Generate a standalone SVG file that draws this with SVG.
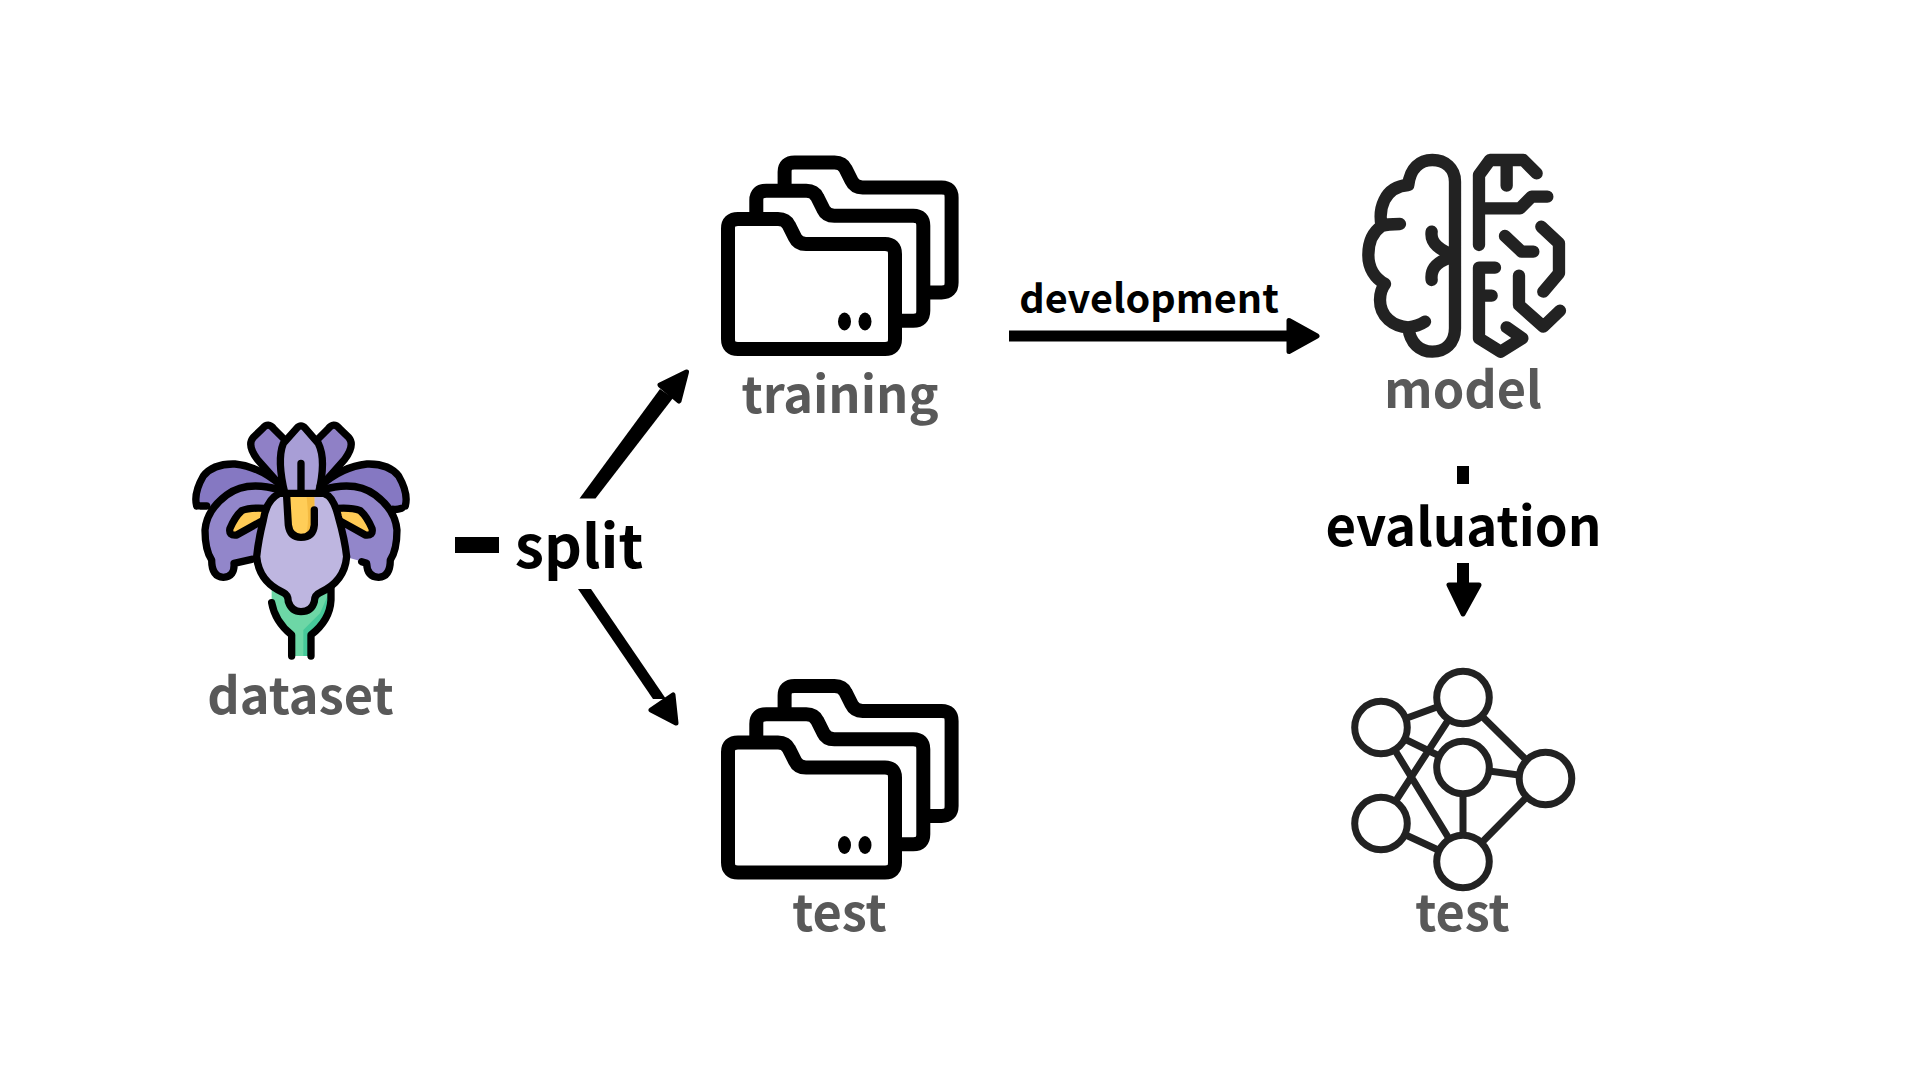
<svg xmlns="http://www.w3.org/2000/svg" width="1920" height="1080" viewBox="0 0 1920 1080">
<style>
text{font-family:"Noto Sans CJK SC","Noto Sans",sans-serif;font-weight:700;text-anchor:middle}
.lab{fill:#595959;font-size:50.500px}
.act{fill:#000}
.ol{fill:none;stroke:#000;stroke-width:22;stroke-linecap:round;stroke-linejoin:round}
.fo{fill:#fff;stroke:#000;stroke-width:14;stroke-linejoin:round}
.br{fill:none;stroke:#222;stroke-width:37;stroke-linecap:round;stroke-linejoin:round}
.nl{stroke:#222;stroke-width:7}
.nc{fill:#fff;stroke:#222;stroke-width:7}
.hd{stroke:#000;stroke-width:5;stroke-linejoin:round}
</style>
<defs>
<path id="ff" d="M728 752Q728 742.500 738 742.500H778Q786 742.500 789 749L795 761Q798 767.500 806 767.500H885Q895 767.500 895 777.500V862.500Q895 872.500 885 872.500H738Q728 872.500 728 862.500Z"/>
<g id="folders">
<use href="#ff" class="fo" x="56.600" y="-56.600"/>
<use href="#ff" class="fo" x="28.300" y="-28.300"/>
<use href="#ff" class="fo"/>
<ellipse cx="844.500" cy="845" rx="6.500" ry="9"/>
<ellipse cx="865" cy="845" rx="6.500" ry="9"/>
</g>
<path id="pt" d="M330 255L262 178Q230 135 250 112L278 85Q295 65 312 87L345 120L340 260Z" fill="#8f80c6"/>
<path id="pu" d="M80 318Q70 280 100 228Q130 190 195 192Q270 200 335 258L330 270Q230 240 170 285Q130 320 110 325Z" fill="#8578c2"/>
<path id="pl" d="M325 270Q230 240 170 285Q110 330 105 390Q105 450 125 480Q125 530 160 532Q195 530 192 490L260 470L330 290Z" fill="#9286ca"/>
<path id="py" d="M180 385Q195 350 215 332Q240 322 285 325L272 365L200 405Q175 408 180 385Z" fill="#ffcb55"/>
</defs>
<rect width="1920" height="1080" fill="#fff"/>

<g id="connectors">
<rect x="455" y="537" width="44" height="16"/>
<path d="M579.500 498.500H595.500L673 398L660 389Z"/>
<path d="M686.500 372L660 385L679 401Z" class="hd"/>
<path d="M578 589H591L666 699L653 699Z"/>
<path d="M676 723L651 710L673 695Z" class="hd"/>
<rect x="1009" y="330.500" width="282" height="11"/>
<path d="M1317 336L1289 320.500V351.500Z" class="hd"/>
<rect x="1457" y="466" width="12" height="18"/>
<rect x="1457" y="563" width="12" height="24"/>
<path d="M1463 614L1449 585H1479Z" class="hd"/>
<text class="act" x="579" y="568" font-size="59">split</text>
<text class="act" x="1149" y="313" font-size="39.600">development</text>
<text class="act" x="1463.500" y="546" font-size="52.700">evaluation</text>
</g>

<g id="dataset">
<g transform="translate(170 400) scale(.3333)">
<path d="M305 570L483 555V600Q480 660 423 705V768H365V705Q315 665 305 608Z" fill="#6dd7a6"/>
<path d="M400 690L450 640L483 565V600Q480 660 423 705V768H400Z" fill="#46c99a"/>
<path d="M305 608Q315 665 365 705V768M483 565V600Q480 660 423 705V768" class="ol"/>
<use href="#pt"/><use href="#pt" transform="matrix(-1 0 0 1 786 0)"/>
<path d="M330 255L262 178Q230 135 250 112L278 85Q295 65 312 87L345 120M456 255L524 178Q556 135 536 112L508 85Q491 65 474 87L441 120" class="ol"/>
<path d="M345 282Q320 180 340 130L380 85Q393 70 406 85L445 130Q470 180 445 282Z" fill="#a89ed6"/>
<path d="M345 282Q320 180 340 130L380 85Q393 70 406 85L445 130Q470 180 445 282M393 190V270" class="ol"/>
<use href="#pu"/><use href="#pu" transform="matrix(-1 0 0 1 786 0)"/>
<use href="#pl"/><use href="#pl" transform="matrix(-1 0 0 1 786 0)"/>
<path d="M80 318Q70 280 100 228Q130 190 195 192Q270 200 335 258M706 318Q716 280 686 228Q656 190 591 192Q516 200 451 258M695 325Q680 330 670 328M91 318H110" class="ol"/>
<path d="M330 270Q230 240 170 285Q110 330 105 390Q105 450 125 480Q125 530 160 532Q195 530 192 490L245 478M456 270Q556 240 616 285Q676 330 681 390Q681 450 661 480Q661 530 626 532Q591 530 590 490L575 485" class="ol"/>
<use href="#py"/><use href="#py" transform="matrix(-1 0 0 1 786 0)"/>
<path d="M285 325Q240 322 215 332Q195 350 180 385Q175 408 200 405L272 365M501 325Q546 322 571 332Q591 350 606 385Q611 408 586 405L514 365" class="ol"/>
<path d="M325 282Q290 300 280 360Q265 420 260 470C265 530 300 560 340 578Q355 585 355 605Q365 635 393 635Q425 635 433 605Q433 585 450 578C490 560 525 530 530 470Q525 420 505 350Q490 290 465 282Z" fill="#beb6e0"/>
<path d="M350 290L355 375Q360 412 393 412Q430 412 433 375V292Z" fill="#ffcd58"/>
<path d="M410 292H433V375Q430 405 405 411Q420 380 410 292Z" fill="#f5bb42"/>
<path d="M330 280H460M465 282Q490 290 505 350Q525 420 530 470C525 530 490 560 450 578Q433 585 433 605Q425 635 393 635Q365 635 355 605Q355 585 340 578C300 560 265 530 260 470Q265 420 280 360Q290 300 325 282M350 290L355 375Q360 412 393 412Q430 412 433 375V330" class="ol"/>
</g>
<text class="lab" x="300.500" y="714">dataset</text>
</g>

<g id="training">
<use href="#folders" y="-523.500"/>
<text class="lab" x="840" y="413">training</text>
</g>

<g id="test-folder">
<use href="#folders"/>
<text class="lab" x="839.500" y="931">test</text>
</g>

<g id="model">
<g transform="translate(1340 130) scale(.3333)">
<path class="br" d="M205 165C210 115 240 90 277 90C315 90 345 115 345 155V595C345 640 315 665 277 665C240 665 210 640 205 592C160 590 120 560 120 510C120 490 125 475 135 462C105 445 85 415 85 375C85 335 100 305 125 288C115 240 130 170 205 165ZM125 288C140 282 160 282 180 282M205 592C225 590 240 585 255 575M275 305C270 340 300 360 345 378M275 450C270 410 300 390 345 378"/>
<path class="br" d="M417 345V135L450 90H550L590 130M500 90V167M417 235H540L575 200H622M495 318L545 365H580M604 290L657 340V430L610 485M537 437V525L610 590L660 542M465 413H417V625L482 665L547 625L500 592M417 497H455"/>
</g>
<text class="lab" x="1463" y="408">model</text>
</g>

<g id="test-network">
<path class="nl" d="M1381 727.500L1463 697.500M1381 727.500L1463 767.500M1381 727.500L1463 861.500M1463 697.500L1381 823.500M1463 697.500L1545 778.500M1463 767.500L1545 778.500M1463 767.500V861.500M1463 861.500L1545 778.500M1381 823.500L1463 861.500"/>
<circle class="nc" cx="1463" cy="697.500" r="26.300"/>
<circle class="nc" cx="1381" cy="727.500" r="26.300"/>
<circle class="nc" cx="1463" cy="767.500" r="26.300"/>
<circle class="nc" cx="1545.500" cy="778.500" r="26.300"/>
<circle class="nc" cx="1381" cy="823.500" r="26.300"/>
<circle class="nc" cx="1463" cy="861.500" r="26.300"/>
<text class="lab" x="1462.500" y="931">test</text>
</g>
</svg>
